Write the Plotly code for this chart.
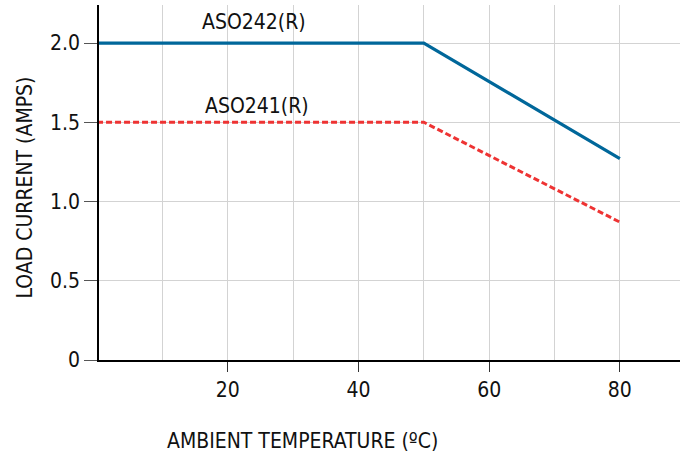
import plotly.graph_objects as go

temp_aso242 = [0, 50, 80]
amps_aso242 = [2.0, 2.0, 1.27]
temp_aso241 = [0, 50, 80]
amps_aso241 = [1.5, 1.5, 0.87]
y_tickvals = [0, 0.5, 1.0, 1.5, 2.0]
y_ticktext = ["0", "0.5", "1.0", "1.5", "2.0"]
x_tickvals = [20, 40, 60, 80]

FONT = "DejaVu Sans Condensed"
FS = 21

fig = go.Figure()
fig.add_trace(go.Scatter(x=temp_aso242, y=amps_aso242, mode="lines",
                         line=dict(color="#00679A", width=3.2), name="ASO242(R)"))
fig.add_trace(go.Scatter(x=temp_aso241, y=amps_aso241, mode="lines",
                         line=dict(color="#EE3333", width=3, dash="6px,3px"), name="ASO241(R)"))

fig.add_annotation(x=24, y=2.0, text="ASO242(R)", showarrow=False, yshift=21,
                   font=dict(family=FONT, size=FS, color="#111"))
fig.add_annotation(x=24.4, y=1.5, text="ASO241(R)", showarrow=False, yshift=16,
                   font=dict(family=FONT, size=FS, color="#111"))

# axis titles placed as annotations to match the reference's offsets
fig.add_annotation(x=31.5, y=0, xref="x", yref="y", yshift=-81,
                   xanchor="center", yanchor="middle",
                   text="AMBIENT TEMPERATURE (ºC)", showarrow=False,
                   font=dict(family=FONT, size=FS, color="#111"))
fig.add_annotation(x=0, y=0.5, xref="paper", yref="paper", xshift=-75, yshift=-5,
                   xanchor="center", yanchor="middle",
                   text="LOAD CURRENT (AMPS)", textangle=-90, showarrow=False,
                   font=dict(family=FONT, size=FS, color="#111"))

fig.update_layout(
    width=680, height=456,
    margin=dict(l=99, r=0, t=5, b=96),
    paper_bgcolor="white", plot_bgcolor="white",
    showlegend=False,
    font=dict(family=FONT, size=FS, color="#111"),
)
fig.update_xaxes(
    range=[0.3, 89.2], tickvals=x_tickvals, ticks="outside", ticklen=10,
    tickcolor="#333", showgrid=True, gridcolor="#d3d3d3", gridwidth=1,
    minor=dict(dtick=10, tick0=0, showgrid=True, gridcolor="#d3d3d3", gridwidth=1),
    showline=True, linecolor="black", linewidth=1.5, zeroline=False,
    tickfont=dict(size=FS),
)
fig.update_yaxes(
    range=[0, 2.24], tickvals=y_tickvals, ticktext=y_ticktext, ticks="outside",
    ticklen=13, tickcolor="#555", showgrid=True, gridcolor="#d3d3d3", gridwidth=1,
    showline=True, linecolor="black", linewidth=1.5, zeroline=False,
    tickfont=dict(size=FS),
)

fig.write_html("out.html", config={"displayModeBar": False},
               post_script="document.body.style.margin='0';")
